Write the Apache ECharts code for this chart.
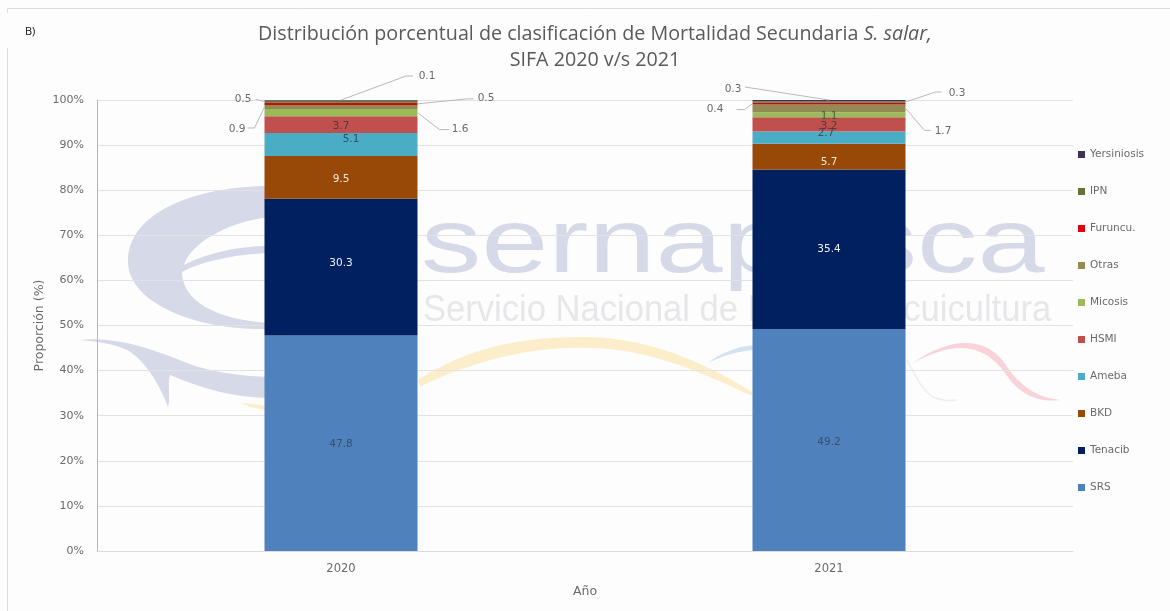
<!DOCTYPE html>
<html><head><meta charset="utf-8">
<style>html,body{margin:0;padding:0;background:#fff}#c{width:1170px;height:611px}</style>
<script src="https://cdn.jsdelivr.net/npm/echarts@6/dist/echarts.min.js"></script>
</head><body><div id="c"></div>
<script>
const years = ['2020', '2021'];
const names = ['SRS','Tenacib','BKD','Ameba','HSMI','Micosis','Otras','Furuncu.','IPN','Yersiniosis'];
const colors = ['#4f81bd','#002060','#984807','#4bacc6','#c0504d','#9bbb59','#948a54','#c00f0a','#6b6f3a','#403152'];
const legendColors = ['#4f81bd','#002060','#984807','#4bacc6','#c0504d','#9bbb59','#948a54','#e00010','#6b6f3a','#403152'];
const SRS = [47.8, 49.2];
const Tenacib = [30.3, 35.4];
const BKD = [9.5, 5.7];
const Ameba = [5.1, 2.7];
const HSMI = [3.7, 3.2];
const Micosis = [1.6, 1.1];
const Otras = [0.9, 1.7];
const Furuncu = [0.5, 0.4];
const IPN = [0.5, 0.3];
const Yersiniosis = [0.1, 0.3];
const values = [SRS, Tenacib, BKD, Ameba, HSMI, Micosis, Otras, Furuncu, IPN, Yersiniosis];

const yTicks = 10;
const font = '"DejaVu Sans"';
const gray = '#6a6a6a';

// label placement (pixels): [series][category] -> [x, y]
const labelPlace = {
  '0-0':[341,444], '1-0':[341,263], '2-0':[341,179],
  '3-0':[351,139], '4-0':[341,126], '5-0':[460,129], '6-0':[237,129], '7-0':[486,98], '8-0':[243,99], '9-0':[427,76],
  '0-1':[829,442], '1-1':[829,249], '2-1':[829,162],
  '3-1':[826,133], '4-1':[829,126], '5-1':[829,116], '6-1':[943,131], '7-1':[715,109], '8-1':[957,93], '9-1':[733,89]
};
const darkLabels = { '3-0':'#2f4f68', '4-0':'#5a3634', '3-1':'#3a4f5c', '4-1':'#5a3634', '5-1':'#4a5a30' };
const whiteSeries = [1, 2];

// leader lines: [series, category, side, elbow dx, elbow dy, end dx, end dy], offsets in px from the anchor
const leaders = [
  [9,0, 0, 65,-24, 72,-24],
  [8,0,-1, -7,-2, -9,-2],
  [7,0, 1, 50,-5, 56,-5],
  [6,0,-1,-10,21,-17,21],
  [5,0, 1, 22,17, 32,17],
  [9,1, 0,-84,-13,-84,-13],
  [8,1, 1, 30,-10, 36,-10],
  [7,1,-1, -8,6,-16,6],
  [6,1, 1, 19,22, 25,22]
];
const halfBar = 76.5;

function cumulative(s, c) {
  let sum = 0;
  for (let i = 0; i < s; i++) sum += values[i][c];
  return sum;
}

const series = names.map((n, s) => ({
  name: n, type: 'bar', stack: 'total', barWidth: 153,
  itemStyle: { color: colors[s] },
  data: values[s].map((v, c) => {
    const k = s + '-' + c;
    let col = gray;
    if (whiteSeries.includes(s)) col = '#eef2f7';
    if (darkLabels[k]) col = darkLabels[k];
    if (s === 0) col = '#3a4f68';
    if (k === '2-0' || k === '2-1') col = '#f3ead8';
    return { value: v, label: { color: col } };
  }),
  label: { show: true, position: 'inside', fontFamily: font, fontSize: 10.5, formatter: p => p.value.toFixed(1) },
  labelLayout: p => {
    const o = labelPlace[p.seriesIndex + '-' + p.dataIndex];
    return o ? { x: o[0], y: o[1], align: 'center', verticalAlign: 'middle' } : {};
  },
  emphasis: { disabled: true }
}));

series.push({
  type: 'custom', name: 'guias', silent: true, z: 5, clip: false,
  data: leaders.map(r => [r[1], cumulative(r[0], r[1]) + values[r[0]][r[1]] / 2]),
  encode: { x: 0, y: 1 },
  renderItem: (params, api) => {
    const r = leaders[params.dataIndex];
    const p = api.coord([api.value(0), r[2] === 0 ? 100 : api.value(1)]);
    const a = [p[0] + r[2] * halfBar, p[1]];
    return { type: 'polyline', shape: { points: [a, [a[0] + r[3], a[1] + r[4]], [a[0] + r[5], a[1] + r[6]]] },
      style: { stroke: '#b9b9b9', lineWidth: 1, fill: 'none' } };
  }
});

const wm = (d, fill) => ({ type: 'path', shape: { pathData: d }, style: { fill } });
const logoShapes = [
  wm('M270 186 C200 186 128 210 128 262 C128 300 190 331 270 329 L270 323 C215 320 182 300 182 272 C200 262 235 254 270 253 L270 246 C235 246 205 254 184 265 C190 245 225 222 270 217 Z', '#d6d9e8'),
  wm('M80 340 C115 336 150 348 187 363 C210 372 240 376 270 377 L270 398 C235 398 200 388 170 375 C167 385 171 398 168 407 C160 385 145 360 127 350 C115 344 100 342 80 340 Z', '#d6d9e8'),
  wm('M418 380 C470 345 530 336 590 337 C650 338 710 365 752 392 L752 396 C700 372 650 349 590 348 C530 346 470 362 420 387 Z', '#fdeecb'),
  wm('M240 403 C250 403 258 405 268 406 L268 411 C258 409 248 406 240 403 Z', '#fdeecb'),
  wm('M708 363 C720 353 738 346 755 345 L755 350 C738 351 722 356 708 363 Z', '#d5e3f0'),
  wm('M913 363 C930 350 950 343 965 343 C985 343 998 352 1008 368 C1020 385 1035 397 1060 400 C1040 403 1022 395 1010 380 C998 362 985 349 962 348 C945 348 930 354 913 363 Z', '#f8d3da'),
  { type: 'path', shape: { pathData: 'M907 360 C915 375 922 390 933 397 C940 400 950 401 957 400' }, style: { fill: 'none', stroke: '#eceef2', lineWidth: 1.5 } }
];
series.push({
  type: 'custom', name: 'logo', silent: true, z: -1, clip: false,
  data: [[0, 0]], encode: { x: 0, y: 1 },
  renderItem: () => ({ type: 'group', children: logoShapes })
});

const watermark = [
  { type: 'text', z: -10, silent: true, x: 421, y: 202, scaleX: 1.34, style: { text: 'sernapesca', font: '90px "Liberation Sans"', fill: '#d6d9e8' } },
  { type: 'text', z: -10, silent: true, x: 423, y: 293, scaleX: 0.96, style: { text: 'Servicio Nacional de Pesca y Acuicultura', font: '36px "Liberation Sans"', fill: '#e7e7ea' } }
];
const frame = [
  { type: 'line', z: -9, silent: true, shape: { x1: 7.5, y1: 8.5, x2: 1170, y2: 8.5 }, style: { stroke: '#dcdcdc', lineWidth: 1 } },
  { type: 'line', z: -9, silent: true, shape: { x1: 7.5, y1: 8.5, x2: 7.5, y2: 13 }, style: { stroke: '#dcdcdc', lineWidth: 1 } },
  { type: 'line', z: -9, silent: true, shape: { x1: 7.5, y1: 48, x2: 7.5, y2: 611 }, style: { stroke: '#dcdcdc', lineWidth: 1 } },
  { type: 'text', z: 10, silent: true, x: 25, y: 26, style: { text: 'B)', font: '11px "Open Sans"', fill: '#111' } }
];

const chart = echarts.init(document.getElementById('c'), null, { renderer: 'canvas' });
chart.setOption({
  animation: false,
  backgroundColor: '#fefdfe',
  title: {
    left: 590, top: 16, textAlign: 'center',
    text: '{a|Distribución porcentual de clasificación de Mortalidad Secundaria }{i|S. salar,}\n{a|SIFA 2020 v/s 2021}',
    textStyle: { rich: {
      a: { fontFamily: '"Open Sans"', fontWeight: 'normal', fontSize: 19.7, color: '#5a5a5a', lineHeight: 26 },
      i: { fontFamily: '"Open Sans"', fontWeight: 'normal', fontSize: 19.7, fontStyle: 'italic', color: '#5a5a5a', lineHeight: 26 }
    } }
  },
  legend: {
    orient: 'vertical', left: 1073, top: 144, icon: 'rect', itemWidth: 7, itemHeight: 7, itemGap: 26,
    data: names.slice().reverse().map((n) => ({ name: n, itemStyle: { color: legendColors[names.indexOf(n)] } })),
    textStyle: { fontFamily: font, fontSize: 10.5, color: gray }
  },
  grid: { left: 97, right: 97, top: 100, bottom: 60 },
  xAxis: {
    type: 'category', data: years, name: 'Año', nameLocation: 'middle', nameGap: 34,
    nameTextStyle: { fontFamily: font, fontSize: 12.5, color: gray },
    axisLine: { lineStyle: { color: '#dcdcdc' } }, axisTick: { show: false },
    axisLabel: { fontFamily: font, fontSize: 11.5, color: gray, margin: 12 }
  },
  yAxis: {
    type: 'value', min: 0, max: 100, interval: yTicks, name: 'Proporción (%)', nameLocation: 'middle', nameGap: 51, nameMoveOverlap: false,
    nameTextStyle: { fontFamily: font, fontSize: 12.5, color: gray },
    axisLine: { show: true, lineStyle: { color: '#b5b5b5' } }, axisTick: { show: false },
    axisLabel: { fontFamily: font, fontSize: 11, color: gray, margin: 13, formatter: '{value}%' },
    splitLine: { lineStyle: { color: '#e2e2e2' } }
  },
  graphic: watermark.concat(frame),
  series
});
</script></body></html>
